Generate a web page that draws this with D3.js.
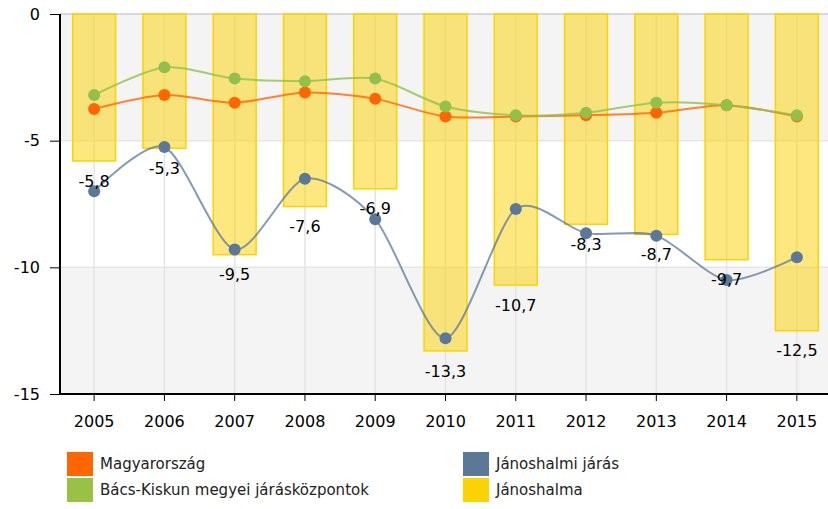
<!DOCTYPE html>
<html>
<head>
<meta charset="utf-8">
<script src="https://cdn.jsdelivr.net/npm/d3@7"></script>
<style>
  body { margin: 0; background: #fff; }
  svg text { font-family: "DejaVu Sans", Verdana, sans-serif; }
</style>
</head>
<body>
<svg id="chart" width="828" height="509"></svg>
<script>
// years on the x axis
const years = ["2005","2006","2007","2008","2009","2010","2011","2012","2013","2014","2015"];
// Jánoshalma (bars)
const janoshalma = [-5.8, -5.3, -9.5, -7.6, -6.9, -13.3, -10.7, -8.3, -8.7, -9.7, -12.5];
// Jánoshalmi járás
const jarasVals = [-7.0, -5.25, -9.3, -6.5, -8.1, -12.8, -7.7, -8.65, -8.75, -10.5, -9.6];
// Magyarország
const magyarVals = [-3.75, -3.2, -3.5, -3.1, -3.35, -4.05, -4.05, -4.0, -3.9, -3.6, -4.05];
// Bács-Kiskun megyei járásközpontok
const bacsVals = [-3.2, -2.1, -2.55, -2.65, -2.55, -3.65, -4.0, -3.9, -3.5, -3.6, -4.0];
const yTicks = [0, -5, -10, -15];

const svg = d3.select("#chart");
const plotLeft = 60, plotTop = 14, plotBottom = 394;

const x = d3.scaleBand().domain(years).range([59, 832]).paddingInner(0.39).paddingOuter(0.195);
const xc = d => x(d) + x.bandwidth() / 2;
const y = d3.scaleLinear().domain([-15, 0]).range([plotBottom, plotTop]);

// background bands
const bands = [[0, -5, "#f4f4f4"], [-5, -10, "#ffffff"], [-10, -15, "#f4f4f4"]];
svg.selectAll(".band").data(bands).enter().append("rect")
  .attr("x", plotLeft).attr("width", 828 - plotLeft)
  .attr("y", d => y(d[0])).attr("height", d => y(d[1]) - y(d[0]))
  .attr("fill", d => d[2]);

// grid
svg.selectAll(".hgrid").data(yTicks).enter().append("line")
  .attr("x1", plotLeft).attr("x2", 828)
  .attr("y1", d => y(d)).attr("y2", d => y(d))
  .attr("stroke", d => d === 0 ? "#d8d8d8" : "#e6e6e6").attr("stroke-width", d => d === 0 ? 2 : 1.5);
svg.selectAll(".vgrid").data(years).enter().append("line")
  .attr("x1", d => xc(d)).attr("x2", d => xc(d))
  .attr("y1", plotTop).attr("y2", plotBottom)
  .attr("stroke", "#e4e4e4").attr("stroke-width", 1.5);

// bars
svg.selectAll(".bar").data(janoshalma).enter().append("rect")
  .attr("x", (d, i) => x(years[i]))
  .attr("width", x.bandwidth())
  .attr("y", y(0))
  .attr("height", d => y(d) - y(0))
  .attr("fill", "#fcd202").attr("fill-opacity", 0.5)
  .attr("stroke", "#fcd202").attr("stroke-width", 1.5);

// lines
const line = d3.line()
  .x((d, i) => xc(years[i]))
  .y(d => y(d))
  .curve(d3.curveCardinal.tension(0.2));

const series = [
  { vals: jarasVals, color: "#5b7899", opacity: 0.75 },
  { vals: magyarVals, color: "#ff6600", opacity: 0.8 },
  { vals: bacsVals, color: "#92c04a", opacity: 0.8 }
];

series.forEach(s => {
  svg.append("path").datum(s.vals)
    .attr("d", line)
    .attr("fill", "none")
    .attr("stroke", s.color)
    .attr("stroke-opacity", s.opacity)
    .attr("stroke-width", 2);
  svg.selectAll(null).data(s.vals).enter().append("circle")
    .attr("cx", (d, i) => xc(years[i]))
    .attr("cy", d => y(d))
    .attr("r", 6)
    .attr("fill", s.color);
});

// bar labels
svg.selectAll(".lbl").data(janoshalma).enter().append("text")
  .attr("x", (d, i) => xc(years[i]))
  .attr("y", d => y(d) + 20)
  .attr("dy", "0.35em")
  .attr("text-anchor", "middle")
  .attr("font-size", 16)
  .attr("fill", "#000")
  .text(d => String(d).replace(".", ","));

// axes
const yAxis = d3.axisLeft(y).tickValues(yTicks).tickSize(10).tickPadding(10).tickFormat(d => d);
svg.append("g").attr("transform", `translate(${plotLeft},0)`).call(yAxis)
  .call(g => g.select(".domain").attr("stroke", "#000").attr("stroke-width", 2).attr("d", `M0,${plotTop}V${plotBottom}`))
  .call(g => g.selectAll("text").attr("font-size", 16).attr("fill", "#000").style("font-family", "DejaVu Sans, Verdana, sans-serif"));

const xAxis = d3.axisBottom(x).tickSize(7).tickPadding(15);
svg.append("g").attr("transform", `translate(0,${plotBottom})`).call(xAxis)
  .call(g => g.select(".domain").attr("stroke", "#000").attr("stroke-width", 2).attr("d", `M${plotLeft},0H828`))
  .call(g => g.selectAll("text").attr("font-size", 16).attr("fill", "#000").style("font-family", "DejaVu Sans, Verdana, sans-serif"));

// legend
const legendNames = ["Magyarország", "Bács-Kiskun megyei járásközpontok", "Jánoshalmi járás", "Jánoshalma"];
const legendColors = ["#ff6600", "#99c145", "#5b7899", "#fcd202"];
const legendCols = [67, 67, 463, 463];
const legendRows = [452, 478, 452, 478];
const lg = svg.selectAll(".leg").data(legendNames).enter().append("g")
  .attr("transform", (d, i) => `translate(${legendCols[i]},${legendRows[i]})`);
lg.append("rect").attr("width", 26).attr("height", 24)
  .attr("fill", (d, i) => legendColors[i]);
lg.append("text").attr("x", 33).attr("y", 12).attr("dy", "0.35em")
  .attr("font-size", 15).attr("fill", "#222")
  .text(d => d);
</script>
</body>
</html>
